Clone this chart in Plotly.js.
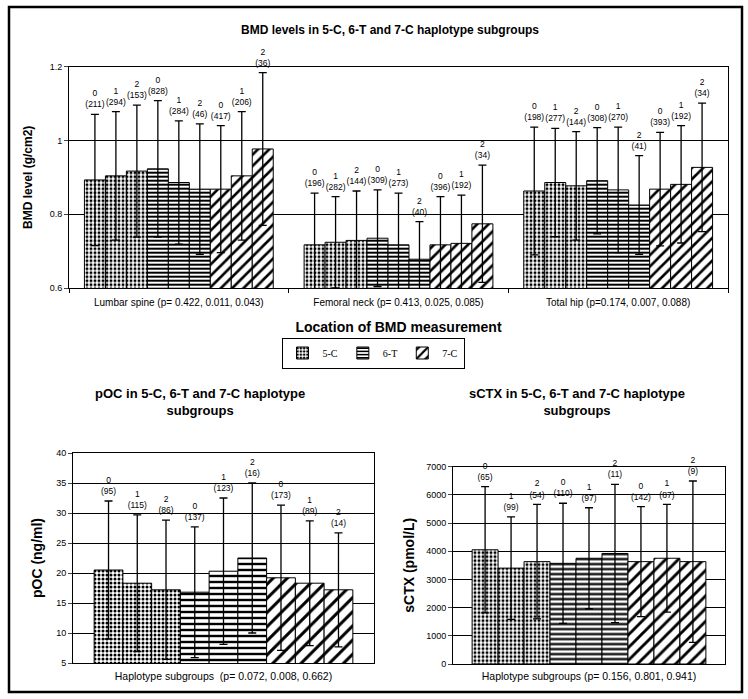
<!DOCTYPE html>
<html><head><meta charset="utf-8">
<script src="https://cdn.plot.ly/plotly-3.0.1.min.js"></script>
<style>html,body{margin:0;padding:0;background:#fff;} #chart{width:748px;height:699px;}</style>
</head><body><div id="chart"></div>
<script>
// ---------- DATA ----------
const haplotypes = ['5-C', '6-T', '7-C'];
const copies = ['0', '1', '2'];
const bmdSites = ['Lumbar spine (p= 0.422, 0.011, 0.043)', 'Femoral neck (p= 0.413, 0.025, 0.085)', 'Total hip (p=0.174, 0.007, 0.088)'];
// order in each array: 5-C(0,1,2), 6-T(0,1,2), 7-C(0,1,2)
const lumbarMean = [0.893, 0.904, 0.917, 0.923, 0.886, 0.868, 0.868, 0.904, 0.977];
const lumbarSD   = [0.178, 0.174, 0.179, 0.185, 0.167, 0.177, 0.172, 0.174, 0.207];
const lumbarN    = [211, 294, 153, 828, 284, 46, 417, 206, 36];
const femoralMean = [0.717, 0.724, 0.729, 0.735, 0.717, 0.678, 0.717, 0.721, 0.774];
const femoralSD   = [0.140, 0.124, 0.134, 0.131, 0.140, 0.102, 0.131, 0.131, 0.159];
const femoralN    = [196, 282, 144, 309, 273, 40, 396, 192, 34];
const hipMean = [0.863, 0.886, 0.877, 0.891, 0.866, 0.825, 0.868, 0.881, 0.927];
const hipSD   = [0.173, 0.147, 0.147, 0.144, 0.170, 0.134, 0.154, 0.159, 0.174];
const hipN    = [198, 277, 144, 308, 270, 41, 393, 192, 34];

const pocMean = [20.5, 18.3, 17.2, 16.8, 20.3, 22.5, 19.2, 18.3, 17.2];
const pocSD   = [11.5, 11.4, 11.6, 10.9, 12.2, 12.5, 12.1, 10.4, 9.5];
const pocN    = [95, 115, 86, 137, 123, 16, 173, 89, 14];

const ctxMean = [4050, 3400, 3630, 3570, 3750, 3920, 3630, 3750, 3630];
const ctxSD   = [2240, 1820, 2030, 2130, 1790, 2450, 1950, 1910, 2860];
const ctxN    = [65, 99, 54, 110, 97, 11, 142, 87, 9];

const bmdTitle = 'BMD levels in 5-C, 6-T and 7-C haplotype subgroups';
const pocTitle = 'pOC in 5-C, 6-T and 7-C haplotype<br>subgroups';
const ctxTitle = 'sCTX in 5-C, 6-T and 7-C haplotype<br>subgroups';
const pocXTitle = 'Haplotype subgroups  (p= 0.072, 0.008, 0.662)';
const ctxXTitle = 'Haplotype subgroups (p= 0.156, 0.801, 0.941)';

// ---------- BUILD ----------
const W = 748, H = 699;
const px = x => x / W;
const py = y => 1 - y / H;
const FONT = 'Liberation Sans, Arial, sans-serif';
const barW = 0.0955;
const pos = (g, k) => g + (k - 4) * barW;

const pat = {
  top: [{shape: '.', size: 4, solidity: 0.45}, {shape: '-', size: 4, solidity: 0.5}, {shape: '/', size: 8, solidity: 0.33}],
  poc: [{shape: '.', size: 4, solidity: 0.45}, {shape: '-', size: 6, solidity: 0.4}, {shape: '/', size: 10, solidity: 0.3}],
  ctx: [{shape: '.', size: 4, solidity: 0.45}, {shape: '-', size: 5, solidity: 0.45}, {shape: '/', size: 9, solidity: 0.32}]
};

const traces = [];
function addChart(groupMeans, groupSDs, groupNs, patset, xa, ya, legend) {
  for (let h = 0; h < 3; h++) {
    for (let c = 0; c < 3; c++) {
      const k = h * 3 + c;
      traces.push({
        type: 'bar',
        x: groupMeans.map((_, g) => pos(g, k)),
        y: groupMeans.map(a => a[k]),
        width: barW,
        xaxis: xa, yaxis: ya,
        name: haplotypes[h], legendgroup: haplotypes[h],
        showlegend: legend && c === 0,
        hoverinfo: 'skip',
        marker: {color: '#fff', line: {color: '#000', width: 1},
          pattern: Object.assign({fgcolor: '#000', bgcolor: '#fff', fillmode: 'replace'}, patset[h])},
        error_y: {type: 'data', array: groupSDs.map(a => a[k]), symmetric: true, color: '#000', thickness: 1.3, width: 4}
      });
    }
  }
  // count labels above error bars
  const lx = [], ly = [], lt = [];
  groupMeans.forEach((m, g) => {
    for (let k = 0; k < 9; k++) {
      lx.push(pos(g, k));
      ly.push(m[k] + groupSDs[g][k]);
      lt.push(copies[k % 3] + '<br>(' + groupNs[g][k] + ')');
    }
  });
  traces.push({type: 'scatter', mode: 'markers+text', x: lx, y: ly, text: lt, textposition: 'top center',
    marker: {size: 6, opacity: 0},
    textfont: {family: FONT, size: 8.5, color: '#000'}, cliponaxis: false, showlegend: false,
    hoverinfo: 'skip', xaxis: xa, yaxis: ya});
}

addChart([lumbarMean, femoralMean, hipMean], [lumbarSD, femoralSD, hipSD], [lumbarN, femoralN, hipN], pat.top, 'x', 'y', true);
addChart([pocMean], [pocSD], [pocN], pat.poc, 'x2', 'y2', false);
addChart([ctxMean], [ctxSD], [ctxN], pat.ctx, 'x3', 'y3', false);

const axBase = {showline: true, mirror: true, linecolor: '#000', linewidth: 1, zeroline: false,
  tickfont: {family: FONT, size: 9, color: '#000'}, automargin: false, fixedrange: true};

const layout = {
  width: W, height: H,
  margin: {l: 0, r: 0, t: 0, b: 0},
  paper_bgcolor: '#fff', plot_bgcolor: '#fff',
  font: {family: FONT, color: '#000'},
  barmode: 'overlay',
  title: {text: '<b>' + bmdTitle + '</b>', x: px(390), y: py(30), xanchor: 'center', yanchor: 'middle',
    xref: 'paper', yref: 'paper', font: {family: FONT, size: 12, color: '#000'}},
  showlegend: true,
  legend: {orientation: 'h', x: px(373), y: py(353), xanchor: 'center', yanchor: 'middle',
    bordercolor: '#000', borderwidth: 1, bgcolor: '#fff',
    font: {family: 'Liberation Serif, Times New Roman, serif', size: 10, color: '#000'},
    itemwidth: 30, traceorder: 'normal'},
  xaxis: Object.assign({}, axBase, {domain: [px(69), px(728)], anchor: 'y', range: [-0.5, 2.5],
    tickvals: [0, 1, 2], ticktext: bmdSites, ticks: '', showgrid: false, ticklabelstandoff: 5,
    tickfont: {family: FONT, size: 10, color: '#000'},
    minor: {tick0: 0.5, dtick: 1, ticks: 'outside', ticklen: 4, tickcolor: '#000', showgrid: false},
    title: {text: '<b>Location of BMD measurement</b>', font: {family: FONT, size: 14, color: '#000'}, standoff: 15}}),
  yaxis: Object.assign({}, axBase, {domain: [py(288), py(66.7)], anchor: 'x', range: [0.6, 1.2],
    tickvals: [0.6, 0.8, 1.0, 1.2], ticktext: ['0.6', '0.8', '1', '1.2'], ticks: 'outside', ticklen: 4,
    showgrid: true, gridcolor: '#000', gridwidth: 1,
    title: {text: '<b>BMD level (g/cm2)</b>', font: {family: FONT, size: 12, color: '#000'}, standoff: 14}}),
  xaxis2: Object.assign({}, axBase, {domain: [px(73), px(374)], anchor: 'y2', range: [-0.5, 0.5],
    showticklabels: false, ticks: '', showgrid: false,
    title: {text: pocXTitle, font: {family: FONT, size: 10.5, color: '#000'}, standoff: 9}}),
  yaxis2: Object.assign({}, axBase, {domain: [py(663), py(453)], anchor: 'x2', range: [5, 40], dtick: 5, tick0: 0,
    ticks: 'outside', ticklen: 4, showgrid: true, gridcolor: '#000', gridwidth: 1,
    title: {text: '<b>pOC (ng/ml)</b>', font: {family: FONT, size: 14, color: '#000'}, standoff: 10}}),
  xaxis3: Object.assign({}, axBase, {domain: [px(453), px(725)], anchor: 'y3', range: [-0.5, 0.5],
    showticklabels: false, ticks: '', showgrid: false,
    title: {text: ctxXTitle, font: {family: FONT, size: 10.5, color: '#000'}, standoff: 8}}),
  yaxis3: Object.assign({}, axBase, {domain: [py(664), py(466.6)], anchor: 'x3', range: [0, 7000], dtick: 1000, tick0: 0,
    ticks: 'outside', ticklen: 4, showgrid: true, gridcolor: '#000', gridwidth: 1,
    title: {text: '<b>sCTX (pmol/L)</b>', font: {family: FONT, size: 14, color: '#000'}, standoff: 8}}),
  annotations: [
    {text: '<b>' + pocTitle + '</b>', xref: 'paper', yref: 'paper', x: px(200), y: py(402), xanchor: 'center', yanchor: 'middle',
      showarrow: false, font: {family: FONT, size: 13, color: '#000'}},
    {text: '<b>' + ctxTitle + '</b>', xref: 'paper', yref: 'paper', x: px(577), y: py(402), xanchor: 'center', yanchor: 'middle',
      showarrow: false, font: {family: FONT, size: 13, color: '#000'}}
  ],
  shapes: [
    {type: 'rect', xref: 'paper', yref: 'paper', x0: px(9), x1: px(742), y0: py(692), y1: py(7),
      line: {color: '#000', width: 2.5}, fillcolor: 'rgba(0,0,0,0)'}
  ]
};

Plotly.newPlot('chart', traces, layout, {displayModeBar: false, staticPlot: true});
</script>
</body></html>
